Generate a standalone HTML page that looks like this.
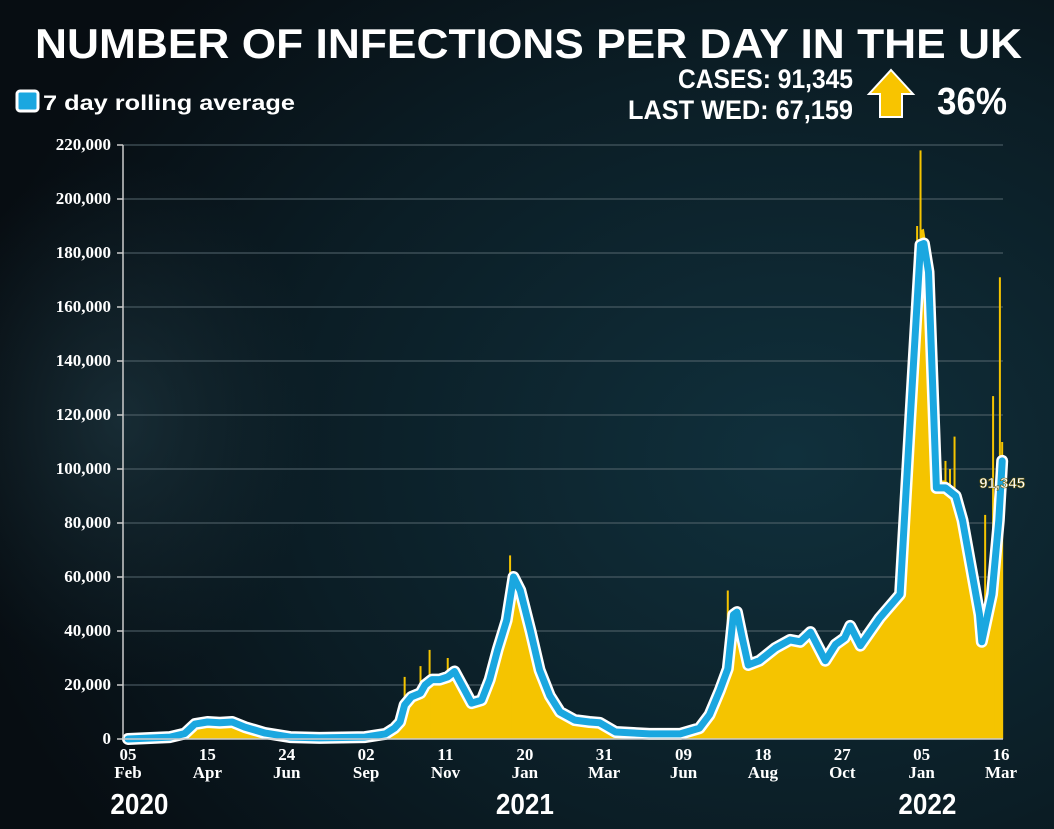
<!DOCTYPE html>
<html><head><meta charset="utf-8">
<style>
html,body{margin:0;padding:0;width:1054px;height:829px;overflow:hidden;background:#0b141b}
svg{display:block}
.tk{font-family:"Liberation Serif",serif;font-weight:bold;fill:#fff;font-size:17px}
.cond{font-family:"Liberation Sans",sans-serif;font-weight:bold;fill:#fff}
</style></head>
<body>
<svg id="chart" width="1054" height="829" viewBox="0 0 1054 829" xmlns="http://www.w3.org/2000/svg">
<defs>
<radialGradient id="bg" cx="0.75" cy="0.55" r="0.8">
<stop offset="0" stop-color="#10303c"/><stop offset="0.6" stop-color="#0b1d25"/><stop offset="1" stop-color="#070d12"/>
</radialGradient>
<radialGradient id="virus" cx="0.5" cy="0.5" r="0.5">
<stop offset="0" stop-color="#213b45" stop-opacity="0.6"/><stop offset="1" stop-color="#1a2e36" stop-opacity="0"/>
</radialGradient>
</defs>
<rect width="1054" height="829" fill="url(#bg)"/>
<ellipse cx="120" cy="420" rx="200" ry="260" fill="url(#virus)"/>
<text class="cond" x="35" y="58" font-size="42" textLength="987" lengthAdjust="spacingAndGlyphs">NUMBER OF INFECTIONS PER DAY IN THE UK</text>
<rect x="17" y="91" width="21" height="20" rx="3" fill="#1aa7e0" stroke="#fff" stroke-width="3"/>
<text class="cond" x="43" y="110" font-size="21" textLength="252" lengthAdjust="spacingAndGlyphs">7 day rolling average</text>
<text class="cond" x="853" y="88" font-size="27" text-anchor="end" textLength="175" lengthAdjust="spacingAndGlyphs">CASES: 91,345</text>
<text class="cond" x="853" y="119" font-size="27" text-anchor="end" textLength="225" lengthAdjust="spacingAndGlyphs">LAST WED: 67,159</text>
<path d="M891 70 L913 94 L902 94 L902 117 L880 117 L880 94 L869 94 Z" fill="#f8c400" stroke="#fff" stroke-width="2"/>
<text class="cond" x="937" y="114" font-size="38" textLength="70" lengthAdjust="spacingAndGlyphs">36%</text>
<g id="grid"></g>
<g id="marks"></g>
<g id="axes"></g>
</svg>
<script>
const yTicks=[0,20000,40000,60000,80000,100000,120000,140000,160000,180000,200000,220000];
const xTickDays=[0,70,140,210,280,350,420,490,560,630,700,770];
const xTickTop=["05","15","24","02","11","20","31","09","18","27","05","16"];
const xTickBottom=["Feb","Apr","Jun","Sep","Nov","Jan","Mar","Jun","Aug","Oct","Jan","Mar"];
const years=["2020","2021","2022"];
const yearDays=[10,350,705];
const days=[0,37,50,59,70,81,92,103,121,143,169,209,227,235,240,244,250,258,262,268,275,282,288,297,303,312,319,326,334,340,346,355,363,372,381,394,407,416,430,460,487,504,513,522,529,534,537,542,547,557,571,584,593,602,615,624,632,637,646,663,681,690,699,702,706,713,721,730,736,751,753,762,768,771];
const avg=[0,0.7,2,5.5,6.3,6,6.3,4.4,2.2,0.7,0.4,0.7,1.9,4,6.3,12.6,15.6,17,20,22,22,23,25,18,13.3,14.4,22,33,44,60,55,40,25.5,16,10,7,6.3,6,2.6,1.9,1.9,4,9,18,26,46,47,37,27.4,29,33.7,36.7,36,39.6,29,35,37.4,41.9,34.6,44.8,53.6,119,183,183.5,173,93,93,90,81,46,36,53.6,81,103];
const spikeDays=[244,258,266,282,337,529,696,699,721,725,729,756,763,769,771];
const spikeVals=[23,27,33,30,68,55,190,218,103,100,112,83,127,171,110];

const X0=128,PXD=1.1338,Y0=739,PXK=2.7;
const x=d=>X0+d*PXD;
const y=v=>Y0-(v/1000)*PXK;
const yk=v=>Y0-v*PXK;
const NS="http://www.w3.org/2000/svg";
const mk=(t,a,p)=>{const e=document.createElementNS(NS,t);for(const k in a)e.setAttribute(k,a[k]);p.appendChild(e);return e;};
const grid=document.getElementById('grid'),marks=document.getElementById('marks'),axes=document.getElementById('axes');

yTicks.forEach((v,i)=>{
  if(v>0){const l=mk('line',{x1:123,x2:1003,y1:y(v),y2:y(v),stroke:'#55666e','stroke-width':1},grid);
  
  }
  const tk=mk('line',{x1:117,x2:123,y1:y(v),y2:y(v),stroke:'#ccc','stroke-width':1.5},axes);
  
  
  const t=mk('text',{x:111,y:y(v)+5,'text-anchor':'end',class:'tk'},axes);
  t.textContent=v.toLocaleString('en-GB');
  
  
});
const ax=mk('line',{x1:123,x2:123,y1:y(220000),y2:Y0,stroke:'#ccc','stroke-width':1.5},axes);



let d='M'+x(days[0])+' '+Y0;
days.forEach((dd,i)=>{d+=' L'+x(dd).toFixed(1)+' '+yk(avg[i]*1.03).toFixed(1);});
d+=' L'+x(days[days.length-1])+' '+Y0+' Z';
const area=mk('path',{d:d,fill:'#f5c400'},marks);


spikeDays.forEach((sd,i)=>{
  const b=mk('rect',{x:x(sd)-1,y:yk(spikeVals[i]),width:2,height:Y0-yk(spikeVals[i]),fill:'#f5c400'},marks);
  
  
});
let lp='';
days.forEach((dd,i)=>{lp+=(i?' L':'M')+x(dd).toFixed(1)+' '+yk(avg[i]).toFixed(1);});
const outline=mk('path',{d:lp,fill:'none',stroke:'#fff','stroke-width':12,'stroke-linejoin':'round','stroke-linecap':'round'},marks);


const line=mk('path',{d:lp,fill:'none',stroke:'#1aa7e0','stroke-width':7,'stroke-linejoin':'round','stroke-linecap':'round'},marks);


const xa=mk('line',{x1:123,x2:1003,y1:Y0,y2:Y0,stroke:'#ccc','stroke-width':1.5},axes);



const last=avg.length-1;
const lab=mk('text',{x:x(days[last]),y:yk(avg[last])+27,'text-anchor':'middle',class:'cond','font-size':15,fill:'#f5d000',stroke:'#6b5a00','stroke-width':0.6},axes);
lab.textContent='91,345';



xTickDays.forEach((dd,i)=>{
  const t1=mk('text',{x:x(dd),y:760,'text-anchor':'middle',class:'tk'},axes);
  t1.textContent=xTickTop[i];
  
  
  const t2=mk('text',{x:x(dd),y:778,'text-anchor':'middle',class:'tk'},axes);
  t2.textContent=xTickBottom[i];
  
  
});
years.forEach((yr,i)=>{
  const t=mk('text',{x:x(yearDays[i]),y:814,'text-anchor':'middle',class:'cond','font-size':29,textLength:58,lengthAdjust:'spacingAndGlyphs'},axes);
  t.textContent=yr;
  
  
});
</script>
</body></html>
